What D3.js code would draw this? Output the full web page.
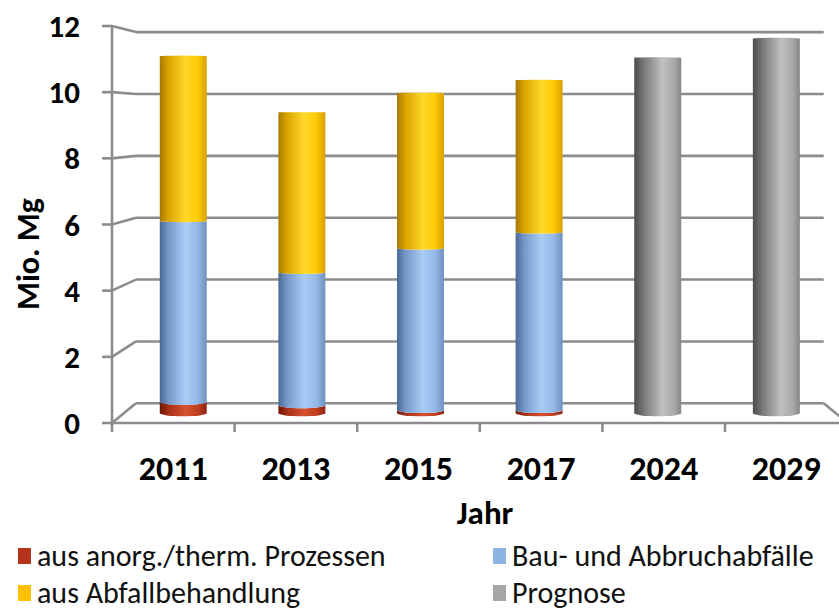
<!DOCTYPE html>
<html>
<head>
<meta charset="utf-8">
<script src="https://cdn.jsdelivr.net/npm/d3@7"></script>
<style>
  html, body { margin: 0; padding: 0; background: #fff; }
  svg { display: block; font-family: Carlito, Lato, "Open Sans", sans-serif; }
</style>
</head>
<body>
<svg id="chart" width="839" height="612"></svg>
<script>
// Jahre (Kategorien)
const categories = ["2011", "2013", "2015", "2017", "2024", "2029"];
// Mengen in Mio. Mg je Herkunft
const anorgTherm = [0.35, 0.25, 0.1, 0.1, 0, 0];
const bauAbbruch = [5.65, 4.15, 5.05, 5.55, 0, 0];
const abfallBehandlung = [5.15, 5.0, 4.85, 4.75, 0, 0];
const prognose = [0, 0, 0, 0, 11.1, 11.7];
const yTicks = [0, 2, 4, 6, 8, 10, 12];

const seriesNames = ["aus anorg./therm. Prozessen", "Bau- und Abbruchabfälle", "aus Abfallbehandlung", "Prognose"];
const seriesValues = [anorgTherm, bauAbbruch, abfallBehandlung, prognose];
const seriesKeys = ["red", "blue", "yellow", "gray"];
const legendColors = ["#b5321b", "#8db4e2", "#ffc000", "#a6a6a6"];

const svg = d3.select("#chart");

// Frontebene des 3D-Diagramms
const x0 = 112, x1 = 847.6;
const x = d3.scaleBand().domain(categories).range([x0, x1]).paddingInner(0.604).paddingOuter(0.302);
const y = d3.scaleLinear().domain([0, 12]).range([423, 26]);

// Perspektive: Punkte der Frontebene laufen mit der Tiefe auf einen Fluchtpunkt zu
const VP = [480, 120], backScale = 0.935;
function proj(px, py, d) {
  const s = 1 - d * (1 - backScale);
  return [VP[0] + (px - VP[0]) * s, VP[1] + (py - VP[1]) * s];
}

const gridColor = "#8c8c8c";
const grid = svg.append("g").attr("stroke", gridColor).attr("stroke-width", 2.6).attr("fill", "none");

// Rückwand und linke Seitenwand
yTicks.forEach(t => {
  const yf = y(t);
  const bl = proj(x0, yf, 1), br = proj(x1, yf, 1);
  grid.append("line").attr("x1", bl[0]).attr("y1", bl[1]).attr("x2", br[0]).attr("y2", br[1]);
  grid.append("line").attr("x1", x0).attr("y1", yf).attr("x2", bl[0]).attr("y2", bl[1]);
  grid.append("line").attr("x1", x0 - 10).attr("y1", yf).attr("x2", x0).attr("y2", yf);
});
// Boden: Vorderkante und rechte Kante
const fr = [x1, y(0)], brc = proj(x1, y(0), 1);
grid.append("line").attr("x1", x0).attr("y1", y(0)).attr("x2", x1).attr("y2", y(0));
grid.append("line").attr("x1", brc[0]).attr("y1", brc[1]).attr("x2", fr[0]).attr("y2", fr[1]);
// Y-Achse vorne
grid.append("line").attr("x1", x0).attr("y1", y(0) + 2).attr("x2", x0).attr("y2", y(12));
// Kategorie-Teilstriche
const step = x.step();
d3.range(categories.length + 1).forEach(i => {
  const xx = x0 + i * step;
  grid.append("line").attr("x1", xx).attr("y1", y(0)).attr("x2", xx).attr("y2", y(0) + 9);
});

// Verläufe für die Zylinder
const defs = svg.append("defs");
const gradients = {
  red:    [[0, "#6e1606"], [0.2, "#a8321a"], [0.55, "#d7512f"], [0.8, "#c2401f"], [1, "#8e2410"]],
  blue:   [[0, "#4a6894"], [0.18, "#7597c8"], [0.55, "#a9ccf6"], [0.8, "#95b9e8"], [1, "#6f91c0"]],
  yellow: [[0, "#a57a00"], [0.18, "#dba300"], [0.55, "#ffd82a"], [0.8, "#ffcb05"], [1, "#d8a000"]],
  gray:   [[0, "#4b4b4b"], [0.2, "#787878"], [0.6, "#c0c0c0"], [0.85, "#a9a9a9"], [1, "#858585"]]
};
Object.entries(gradients).forEach(([k, stops]) => {
  const g = defs.append("linearGradient").attr("id", "g-" + k).attr("x1", 0).attr("x2", 1).attr("y1", 0).attr("y2", 0);
  stops.forEach(([o, c]) => g.append("stop").attr("offset", o).attr("stop-color", c));
});

// Zylinder: Mitte in halber Tiefe, Radius in Tiefenrichtung
const depthC = 0.5, depthR = 0.16;
function ellipseAt(cx, v) {
  const f = proj(cx, y(v), depthC - depthR);
  const b = proj(cx, y(v), depthC + depthR);
  return { cy: (f[1] + b[1]) / 2, ry: Math.abs(f[1] - b[1]) / 2, front: f[1] };
}
function cylinderPath(cxFront, v0, v1) {
  const halfW = x.bandwidth() / 2;
  const e0 = ellipseAt(cxFront, v0), e1 = ellipseAt(cxFront, v1);
  const l0 = proj(cxFront - halfW, y(v0), depthC)[0], r0 = proj(cxFront + halfW, y(v0), depthC)[0];
  const l1 = proj(cxFront - halfW, y(v1), depthC)[0], r1 = proj(cxFront + halfW, y(v1), depthC)[0];
  const rx0 = (r0 - l0) / 2, rx1 = (r1 - l1) / 2;
  const sb = e0.front > e0.cy ? 0 : 1;
  const st = e1.front > e1.cy ? 1 : 0;
  return `M${l0},${e0.cy} A${rx0},${Math.max(e0.ry, 0.01)} 0 0 ${sb} ${r0},${e0.cy} L${r1},${e1.cy} A${rx1},${Math.max(e1.ry, 0.01)} 0 0 ${st} ${l1},${e1.cy} Z`;
}

const bars = svg.append("g");
categories.forEach((cat, i) => {
  const cx = x(cat) + x.bandwidth() / 2;
  let base = 0;
  seriesValues.forEach((vals, s) => {
    const v = vals[i];
    if (!v) return;
    bars.append("path")
      .attr("d", cylinderPath(cx, base, base + v))
      .attr("fill", `url(#g-${seriesKeys[s]})`);
    base += v;
  });
});

// Achsenbeschriftungen
const labels = svg.append("g").attr("fill", "#000").attr("font-weight", "bold");
yTicks.forEach(t => {
  labels.append("text").attr("x", 80).attr("y", y(t)).attr("dy", "0.36em")
    .attr("text-anchor", "end").attr("font-size", 31).text(t);
});
categories.forEach(cat => {
  labels.append("text").attr("x", x(cat) + x.bandwidth() / 2).attr("y", 468).attr("dy", "0.36em")
    .attr("text-anchor", "middle").attr("font-size", 34).text(cat);
});
labels.append("text").attr("x", 485).attr("y", 512).attr("dy", "0.36em")
  .attr("text-anchor", "middle").attr("font-size", 33).text("Jahr");
labels.append("text").attr("transform", "translate(27,254) rotate(-90)").attr("dy", "0.36em")
  .attr("text-anchor", "middle").attr("font-size", 32).text("Mio. Mg");

// Legende
const legendPos = [[18, 556], [493, 556], [18, 593], [493, 593]];
const legend = svg.append("g");
seriesNames.forEach((name, s) => {
  const [lx, ly] = legendPos[s];
  legend.append("rect").attr("x", lx).attr("y", ly - 8).attr("width", 13).attr("height", 16).attr("fill", legendColors[s]);
  legend.append("text").attr("x", lx + 19).attr("y", ly).attr("dy", "0.34em")
    .attr("font-size", 30).attr("fill", "#111").text(name);
});
</script>
</body>
</html>
